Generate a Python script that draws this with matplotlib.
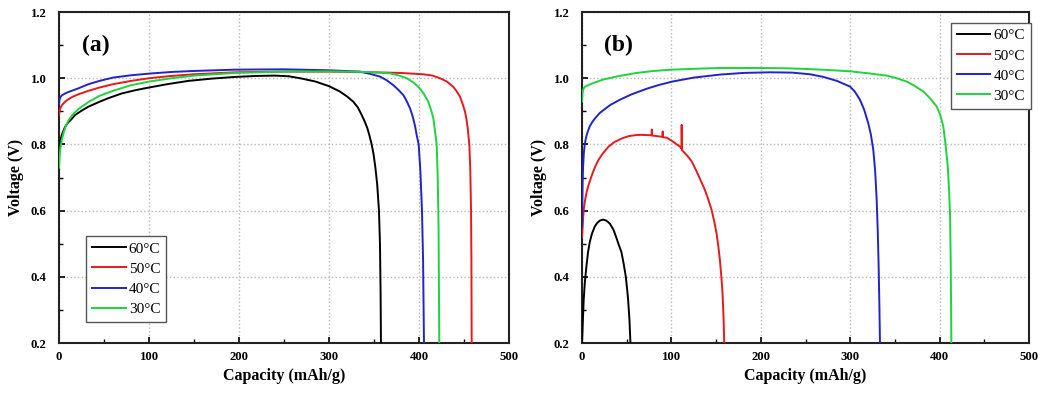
import numpy as np
import matplotlib
matplotlib.use("Agg")
import matplotlib.pyplot as plt

plt.rcParams["font.family"] = ["Liberation Serif", "DejaVu Serif"]

labels = ["60°C", "50°C", "40°C", "30°C"]
colors = ["black", "#e8191b", "#2323c8", "#1ed43c"]

# panel (a)
a60_x = [0, 0.5, 1.5, 3, 5, 6.7, 10, 14, 17.8, 25, 32.6, 45, 55, 69.6, 85, 100, 120,
         143.7, 170, 195.6, 220, 240, 255, 268, 285, 300, 312, 320, 327, 332, 336.3,
         339.5, 342.6, 345, 347.4, 349.5, 351.5, 353.5, 355.5, 356.6, 357.3, 357.7]
a60_y = [0.775, 0.795, 0.812, 0.828, 0.842, 0.853, 0.866, 0.877, 0.889, 0.902, 0.914,
         0.929, 0.94, 0.954, 0.964, 0.972, 0.982, 0.992, 0.999, 1.004, 1.007, 1.008,
         1.006, 1.0, 0.99, 0.976, 0.96, 0.945, 0.929, 0.912, 0.889, 0.87, 0.849, 0.826,
         0.8, 0.77, 0.73, 0.68, 0.6, 0.5, 0.35, 0.2]
a50_x = [0, 0.5, 1.5, 3, 5, 6.7, 10, 15, 22, 32.6, 45, 60, 80, 100, 125, 150, 195.6,
         250, 300, 350, 380, 404.8, 415, 423.3, 431, 438.1, 442, 445.6, 448.5, 451.1,
         452.8, 454.1, 455.9, 457, 457.8, 458.2, 458.5]
a50_y = [0.89, 0.9, 0.91, 0.918, 0.924, 0.929, 0.936, 0.944, 0.952, 0.962, 0.972,
         0.982, 0.992, 1.0, 1.007, 1.012, 1.018, 1.02, 1.02, 1.018, 1.016, 1.012, 1.008,
         1.0, 0.99, 0.974, 0.96, 0.944, 0.922, 0.899, 0.875, 0.849, 0.8, 0.72, 0.6,
         0.45, 0.2]
a40_x = [0, 0.5, 1.5, 3, 6.7, 10, 15, 22, 32.6, 45, 60, 80, 100, 125, 150, 195.6, 250,
         300, 334.4, 346, 356.7, 364, 371.5, 377, 382.6, 386.5, 390, 392.5, 394.4, 396,
         397.4, 399.6, 401.5, 403.3, 404.5, 405.5]
a40_y = [0.92, 0.935, 0.943, 0.948, 0.954, 0.958, 0.963, 0.97, 0.982, 0.992, 1.002,
         1.009, 1.014, 1.019, 1.022, 1.026, 1.027, 1.024, 1.02, 1.013, 1.005, 0.994,
         0.979, 0.965, 0.949, 0.93, 0.909, 0.889, 0.869, 0.85, 0.828, 0.8, 0.72, 0.6,
         0.45, 0.2]
a30_x = [0, 0.5, 1.5, 3, 5, 7.5, 10.4, 15, 22, 32.6, 45, 60, 80, 100, 125, 150, 195.6,
         250, 300, 340, 367.8, 378, 386.3, 394, 401.1, 406, 410.3, 413.5, 415.9, 417.8,
         419.6, 420.8, 421.7, 422.5]
a30_y = [0.73, 0.76, 0.79, 0.813, 0.835, 0.856, 0.872, 0.89, 0.908, 0.928, 0.947,
         0.962, 0.979, 0.99, 1.0, 1.008, 1.016, 1.02, 1.021, 1.019, 1.015, 1.008, 1.0,
         0.987, 0.969, 0.95, 0.929, 0.903, 0.879, 0.84, 0.8, 0.7, 0.55, 0.2]

# panel (b)
b60_x = [0, 0.8, 1.8, 3, 4.9, 6.7, 8.6, 11, 14.2, 17, 20, 23.5, 27, 31, 35, 38.4, 41,
         44, 46.5, 48.9, 50.5, 51.5, 53, 54.1]
b60_y = [0.2, 0.26, 0.33, 0.38, 0.432, 0.475, 0.505, 0.53, 0.552, 0.563, 0.57, 0.573,
         0.57, 0.561, 0.543, 0.518, 0.497, 0.475, 0.44, 0.401, 0.36, 0.331, 0.27, 0.2]
b50_x = [0, 0.4, 1.2, 2.2, 3.4, 5, 7, 9, 12, 15, 18.3, 23, 29.5, 36, 44.4, 52, 59.3,
         66, 74.5, 77.8, 78, 78.3, 84, 89.9, 90.2, 90.5, 95, 100.4, 105, 109.7, 111.1,
         111.4, 111.9, 113.4, 118, 122.8, 127, 132, 137, 141, 144.8, 148, 150.4, 152.5,
         154.1, 155.8, 157.1, 158.2, 159]
b50_y = [0.52, 0.541, 0.58, 0.61, 0.632, 0.655, 0.675, 0.692, 0.715, 0.735, 0.753,
         0.772, 0.793, 0.807, 0.818, 0.825, 0.828, 0.829, 0.828, 0.828, 0.845, 0.827,
         0.825, 0.823, 0.839, 0.822, 0.82, 0.811, 0.802, 0.793, 0.788, 0.859, 0.782,
         0.778, 0.765, 0.748, 0.725, 0.695, 0.665, 0.635, 0.603, 0.565, 0.532, 0.49,
         0.452, 0.4, 0.351, 0.28, 0.2]
b40_x = [0, 0.3, 0.6, 1.1, 2, 3, 4.5, 6.5, 8.6, 12, 15.5, 19.8, 25, 32, 42.2, 55, 72,
         85, 101, 125, 154, 180, 210, 235, 255, 270, 285, 299.6, 305, 310.8, 315.5, 320,
         323, 325.7, 327.8, 329.5, 330.8, 331.7, 332.5, 333.2]
b40_y = [0.55, 0.62, 0.68, 0.73, 0.775, 0.8, 0.822, 0.84, 0.855, 0.87, 0.882, 0.895,
         0.906, 0.92, 0.935, 0.951, 0.968, 0.979, 0.99, 1.002, 1.011, 1.016, 1.018,
         1.017, 1.012, 1.004, 0.992, 0.975, 0.96, 0.935, 0.905, 0.865, 0.83, 0.784,
         0.72, 0.633, 0.53, 0.432, 0.32, 0.2]
b30_x = [0, 0.5, 1.2, 1.9, 3.5, 6, 12, 23.5, 40, 60.8, 80, 101, 130, 154, 199, 230,
         251, 275, 299.6, 320, 340.7, 352, 363, 372, 381.7, 389, 396.6, 400.5, 404,
         406.5, 409, 410.5, 411.6, 412.3, 412.7, 413]
b30_y = [0.93, 0.955, 0.965, 0.97, 0.975, 0.978, 0.985, 0.996, 1.006, 1.016, 1.022,
         1.026, 1.029, 1.031, 1.031, 1.03, 1.028, 1.025, 1.021, 1.015, 1.008, 1.0, 0.99,
         0.977, 0.96, 0.94, 0.915, 0.89, 0.855, 0.8, 0.734, 0.66, 0.583, 0.45, 0.32, 0.2]

panels = [
    ("(a)", [(a60_x, a60_y), (a50_x, a50_y), (a40_x, a40_y), (a30_x, a30_y)]),
    ("(b)", [(b60_x, b60_y), (b50_x, b50_y), (b40_x, b40_y), (b30_x, b30_y)]),
]

fig = plt.figure(figsize=(10.45, 3.94), dpi=100)
ax_a = fig.add_axes([0.0565, 0.1294, 0.4306, 0.840])
ax_b = fig.add_axes([0.557, 0.1294, 0.4278, 0.840])

for ax, (tag, curves) in zip([ax_a, ax_b], panels):
    for (x, y), c, lab in zip(curves, colors, labels):
        ax.plot(x, y, color=c, lw=1.4, label=lab, zorder=3, solid_joinstyle="round")
    ax.set_xlim(0, 500)
    ax.set_ylim(0.2, 1.2)
    ax.set_xticks(np.arange(0, 501, 100))
    ax.set_yticks(np.arange(0.2, 1.21, 0.2))
    ax.set_xticks(np.arange(0, 501, 50), minor=True)
    ax.set_yticks(np.arange(0.2, 1.21, 0.1), minor=True)
    ax.set_yticklabels(["%.1f" % v for v in np.arange(0.2, 1.21, 0.2)])
    ax.tick_params(which="both", direction="in", top=False, right=False)
    ax.tick_params(which="major", length=4, width=1.2, labelsize=9.2, pad=6)
    ax.tick_params(axis="y", which="major", pad=9)
    ax.tick_params(which="minor", length=3, width=1.0)
    for lbl in ax.get_xticklabels() + ax.get_yticklabels():
        lbl.set_fontweight("bold")
    ax.grid(True, which="major", color="#b8b8b8", ls=":", lw=1.0, zorder=0)
    for s in ax.spines.values():
        s.set_linewidth(1.5)
        s.set_color("#222222")
    ax.set_xlabel("Capacity (mAh/g)", fontsize=11.5, fontweight="bold", labelpad=3)
    ax.set_ylabel("Voltage (V)", fontsize=11.5, fontweight="bold", labelpad=5)
    ax.text(25, 1.1, tag, fontsize=17, fontweight="bold", va="center", ha="left")

leg_kw = dict(fontsize=11, handlelength=2.2, handletextpad=0.2, labelspacing=0.42,
              borderpad=0.4, borderaxespad=0, fancybox=False, framealpha=1,
              edgecolor="#555555")
leg_a = ax_a.legend(loc="lower left", bbox_to_anchor=(0.06, 0.063), **leg_kw)
leg_b = ax_b.legend(loc="upper right", bbox_to_anchor=(1.004, 0.968), **leg_kw)
for leg in (leg_a, leg_b):
    leg.get_frame().set_linewidth(1.0)

fig.savefig("out.png", dpi=100)
